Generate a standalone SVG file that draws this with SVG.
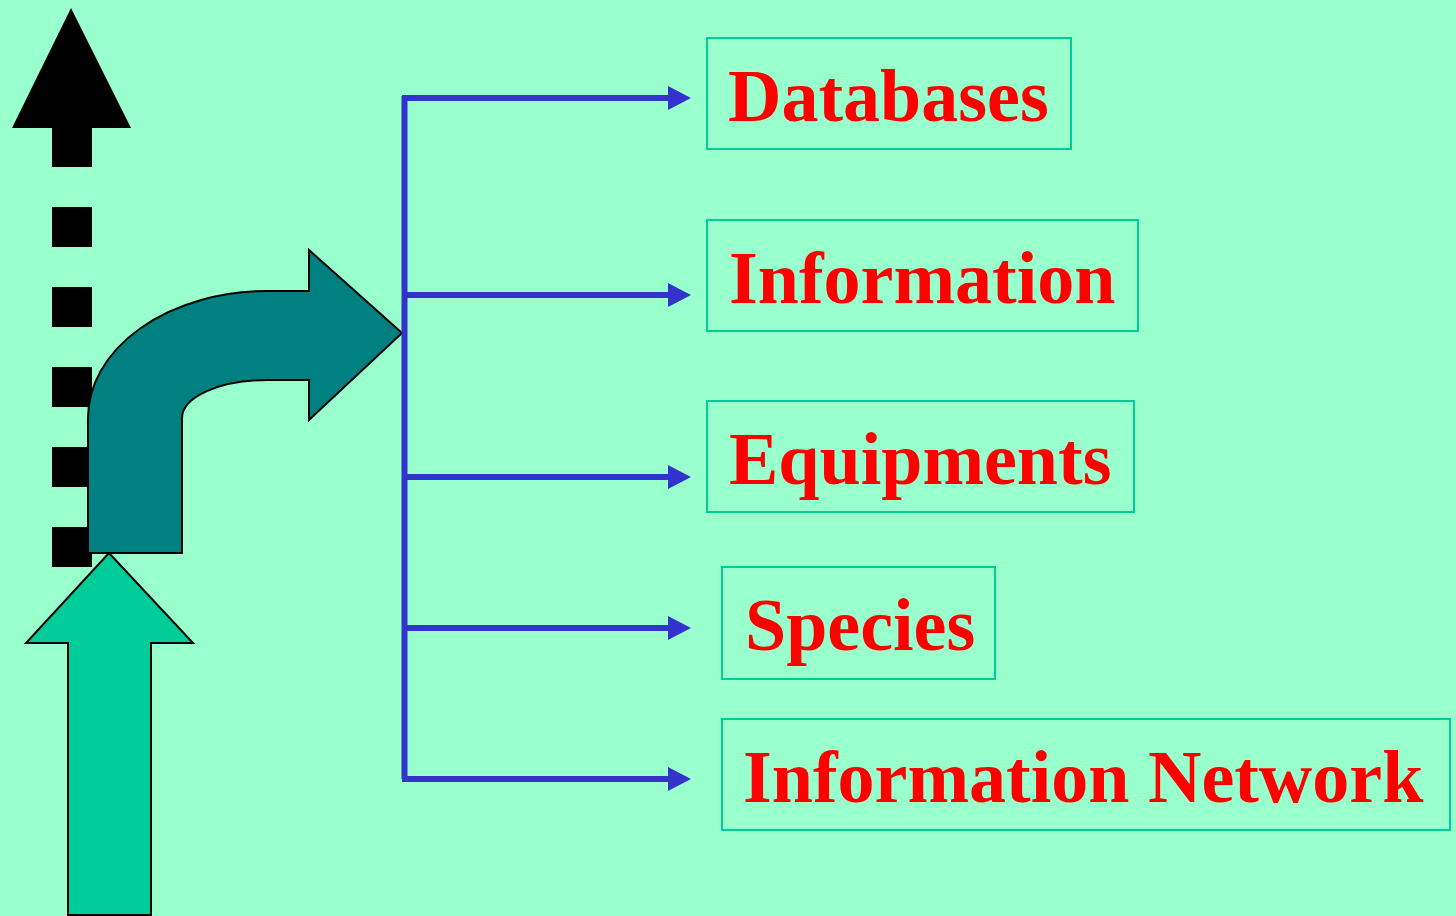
<svg xmlns="http://www.w3.org/2000/svg" width="1456" height="916" viewBox="0 0 1456 916">
<defs>
<style>
.box{fill:none;stroke:#00CC99;stroke-width:2}
.lbl{font-family:"Liberation Serif","Times New Roman",serif;font-weight:bold;font-size:74px;fill:#FF0000}
.conn{fill:none;stroke:#3333CC;stroke-width:6}
.head{fill:#3333CC}
</style>
</defs>
<rect x="0" y="0" width="1456" height="916" fill="#99FFCC"/>
<g id="dashed-up-arrow" fill="#000000">
<polygon points="71,8 131,128 12,128"/>
<rect x="52" y="127" width="40" height="40"/>
<rect x="52" y="207" width="40" height="40"/>
<rect x="52" y="287" width="40" height="40"/>
<rect x="52" y="367" width="40" height="40"/>
<rect x="52" y="447" width="40" height="40"/>
<rect x="52" y="527" width="40" height="40"/>
</g>
<g id="up-arrow">
<polygon points="109,553 193,643 151,643 151,915 68,915 68,643 26,643" fill="#00CC99" stroke="#000000" stroke-width="2"/>
</g>
<g id="bent-arrow">
<path d="M88,553 L88,418 A179,127 0 0 1 267,291 L309,291 L309,250 L402,333 L309,420 L309,380 L267,380 A85,38 0 0 0 182,418 L182,553 Z" fill="#008080" stroke="#000000" stroke-width="2" stroke-linejoin="miter"/>
</g>
<g id="connectors">
<path class="conn" d="M404.5,96 L404.5,779"/>
<path class="conn" d="M402,98 L670,98"/>
<path class="conn" d="M404.5,295 L670,295"/>
<path class="conn" d="M404.5,477 L670,477"/>
<path class="conn" d="M404.5,628 L670,628"/>
<path class="conn" d="M402,779 L670,779"/>
<polygon class="head" points="668,86 691,98 668,110"/>
<polygon class="head" points="668,283 691,295 668,307"/>
<polygon class="head" points="668,465 691,477 668,489"/>
<polygon class="head" points="668,616 691,628 668,640"/>
<polygon class="head" points="668,767 691,779 668,791"/>
</g>
<g id="databases">
<rect class="box" x="707" y="38" width="364" height="111"/>
<text class="lbl" x="728" y="121">Databases</text>
</g>
<g id="information">
<rect class="box" x="707" y="220" width="431" height="111"/>
<text class="lbl" x="729" y="303">Information</text>
</g>
<g id="equipments">
<rect class="box" x="707" y="401" width="427" height="111"/>
<text class="lbl" x="729" y="484">Equipments</text>
</g>
<g id="species">
<rect class="box" x="722" y="567" width="273" height="112"/>
<text class="lbl" x="745" y="650">Species</text>
</g>
<g id="information-network">
<rect class="box" x="722" y="719" width="728" height="111"/>
<text class="lbl" x="743" y="802">Information Network</text>
</g>
</svg>
